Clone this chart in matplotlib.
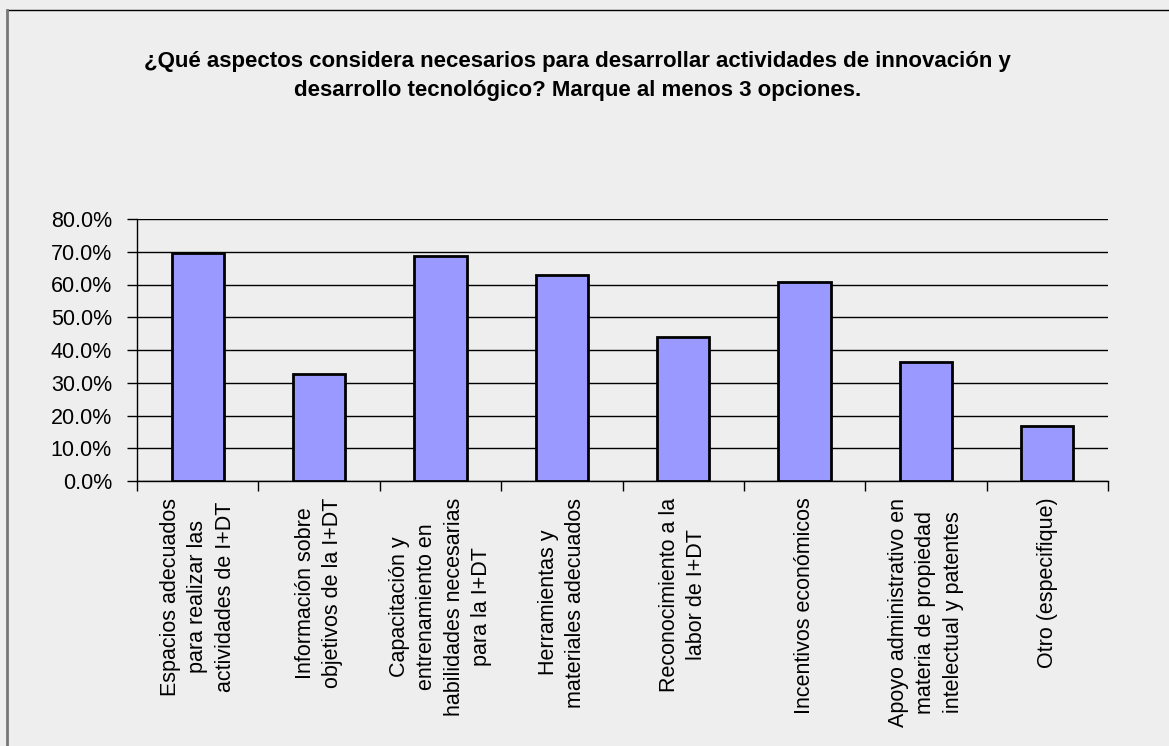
import matplotlib
import matplotlib.pyplot as plt
from matplotlib.lines import Line2D
from matplotlib.ticker import FuncFormatter, MultipleLocator

matplotlib.use('Agg')

plt.rcParams['font.family'] = ['Liberation Sans', 'DejaVu Sans']

categories = [
    'Espacios adecuados\npara realizar las\nactividades de I+DT',
    'Información sobre\nobjetivos de la I+DT',
    'Capacitación y\nentrenamiento en\nhabilidades necesarias\npara la I+DT',
    'Herramientas y\nmateriales adecuados',
    'Reconocimiento a la\nlabor de I+DT',
    'Incentivos económicos',
    'Apoyo administrativo en\nmateria de propiedad\nintelectual y patentes',
    'Otro (especifique)',
]
values = [69.6, 32.6, 68.8, 62.9, 44.1, 60.7, 36.2, 16.8]

title = ('¿Qué aspectos considera necesarios para desarrollar actividades de innovación y\n'
         'desarrollo tecnológico? Marque al menos 3 opciones.')

bg = '#eeeeee'
fig = plt.figure(figsize=(11.69, 7.46), dpi=100, facecolor=bg)
ax = fig.add_axes([137 / 1169, 1 - 481 / 746, (1108 - 137) / 1169, (481 - 219) / 746])
ax.set_facecolor(bg)

x = list(range(len(categories)))
ax.bar(x, values, width=0.43, color='#9999ff', edgecolor='black', linewidth=2, zorder=3)

ax.set_xlim(-0.5, len(categories) - 0.5)
ax.set_ylim(0, 80)
ax.yaxis.set_major_locator(MultipleLocator(10))
ax.yaxis.set_major_formatter(FuncFormatter(lambda v, p: '{:.1f}%'.format(v)))
ax.grid(axis='y', color='black', linewidth=1, zorder=1)

ax.set_xticks(x)
ax.set_xticklabels(categories, rotation=90, ha='center', va='top',
                   multialignment='center', fontsize=15.5, linespacing=1.4)
ax.set_xticks([i - 0.5 for i in range(len(categories) + 1)], minor=True)
ax.tick_params(axis='x', which='major', length=0, pad=12)
ax.tick_params(axis='x', which='minor', length=7, width=1, direction='out')
ax.tick_params(axis='y', length=7, width=1, direction='out', labelsize=15.5, pad=11)

for side in ['top', 'right']:
    ax.spines[side].set_visible(False)
ax.spines['left'].set_linewidth(1)
ax.spines['bottom'].set_linewidth(1)

fig.text(0.494, 1 - 76 / 746, title, ha='center', va='center',
         fontsize=16, fontweight='bold', linespacing=1.45)

# outer chart frame (only left and top edges fall inside the picture)
fig.add_artist(Line2D([7 / 1169, 1.0], [1 - 10 / 746, 1 - 10 / 746],
                      transform=fig.transFigure, color='black', linewidth=1))
fig.add_artist(Line2D([7 / 1169, 7 / 1169], [0.0, 1 - 10 / 746],
                      transform=fig.transFigure, color='#777777', linewidth=2))

fig.savefig('out.png', dpi=100, facecolor=bg)
plt.close(fig)
